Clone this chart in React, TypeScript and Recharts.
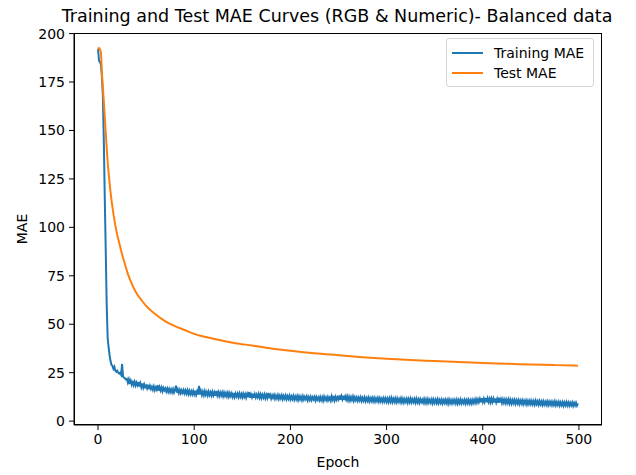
import { LineChart, Line, XAxis, YAxis } from 'recharts';

// training MAE, one value per epoch (0..499)
const trainMae: number[] = [
  192, 186, 185.5, 184, 178, 168, 145, 115, 88, 60, 43, 38, 34, 31, 29, 28.5, 27, 28, 26, 25.5,
  26, 25, 24.5, 25, 24, 29.5, 23, 22.5, 22, 21.5,
  21.8, 19.9, 21.5, 19.2, 20.9, 19.0, 20.8, 18.7, 20.3, 18.4, 19.9, 18.6, 20.2, 17.8, 19.5, 17.6, 19.4, 17.3, 19.0, 17.5,
  18.3, 16.9, 18.8, 16.5, 18.2, 16.6, 17.7, 16.2, 17.9, 16.0, 17.4, 16.3, 18.6, 15.7, 17.5, 15.8, 17.3, 15.4, 17.1, 15.9,
  16.9, 15.3, 16.8, 15.1, 16.6, 15.0, 16.4, 14.9, 16.5, 14.8, 16.2, 18.3, 14.7, 16.3, 14.5, 16.1, 14.4, 15.9, 14.6, 16.0,
  14.3, 15.8, 14.2, 15.9, 14.0, 15.6, 13.9, 15.4, 13.8, 15.5, 13.9, 15.7, 13.6, 15.3, 13.8, 18.2, 13.7, 15.5, 13.5, 15.2,
  13.4, 15.4, 13.6, 15.0, 13.3, 15.2, 13.5, 14.9, 13.2, 15.1, 13.4, 14.8, 13.1, 15.6, 13.3, 14.9, 13.0, 14.7, 13.2, 14.8,
  12.9, 14.7, 13.1, 14.5, 12.8, 14.6, 12.7, 14.4, 12.9, 14.3, 12.6, 14.5, 12.5, 14.2, 12.7, 14.1, 12.4, 14.3, 12.6, 14.0,
  12.3, 14.1, 12.5, 13.9, 12.2, 14.0, 12.4, 15.0, 12.1, 13.8, 12.3, 14.2, 12.0, 13.9, 12.2, 13.7, 12.4, 14.0, 12.1, 13.8,
  11.9, 13.6, 12.2, 13.8, 11.8, 13.5, 12.0, 14.6, 11.9, 13.4, 11.7, 13.3, 12.0, 13.5, 11.6, 13.2, 11.8, 13.4, 11.5, 13.1,
  11.7, 13.3, 11.4, 13.0, 11.6, 13.2, 11.3, 12.9, 11.5, 13.1, 11.2, 12.8, 11.4, 13.0, 11.1, 12.7, 11.3, 12.9, 11.0, 12.8,
  11.2, 12.6, 10.9, 12.8, 11.1, 12.5, 11.3, 12.7, 10.8, 12.4, 11.0, 12.6, 10.9, 12.3, 11.2, 12.5, 10.7, 12.4, 11.0, 12.2,
  10.8, 12.5, 10.9, 12.3, 10.6, 12.6, 11.0, 12.2, 10.7, 12.4, 10.9, 12.1, 10.6, 12.8, 11.1, 13.0, 10.8, 12.5, 11.0, 12.3,
  11.2, 13.2, 11.0, 12.9, 11.3, 13.1, 10.9, 12.7, 11.1, 12.8, 10.8, 12.5, 10.7, 12.4, 10.9, 12.6, 10.6, 12.3, 10.8, 12.2,
  10.5, 12.1, 10.7, 12.3, 10.4, 12.0, 10.6, 12.2, 10.3, 11.9, 10.5, 12.1, 10.2, 11.8, 10.4, 12.0, 10.3, 11.9, 10.1, 11.7,
  10.3, 11.9, 10.1, 11.8, 10.2, 11.6, 10.0, 11.8, 10.2, 11.7, 10.0, 11.6, 9.9, 11.8, 10.1, 11.9, 9.9, 11.5, 10.0, 11.7,
  9.8, 11.6, 10.0, 11.4, 9.9, 11.7, 9.8, 11.5, 9.7, 11.3, 9.9, 11.5, 9.6, 11.4, 9.8, 11.6, 9.7, 11.2, 9.8, 11.4,
  9.6, 11.5, 9.7, 11.2, 9.5, 11.3, 9.8, 11.1, 9.6, 11.4, 9.5, 11.2, 9.4, 11.3, 9.6, 11.0, 9.5, 11.2, 9.3, 11.1,
  9.5, 11.0, 9.4, 11.2, 9.3, 10.9, 9.5, 11.1, 9.2, 10.8, 9.4, 11.0, 9.3, 10.9, 9.1, 11.1, 9.3, 10.8, 9.2, 10.9,
  9.4, 10.9, 9.2, 11.0, 9.1, 10.8, 9.3, 11.1, 9.2, 10.7, 9.4, 10.9, 9.1, 10.8, 9.3, 11.0, 9.2, 10.7, 9.1, 10.9,
  9.3, 11.0, 9.5, 11.3, 9.6, 11.2, 9.8, 11.5, 9.7, 11.8, 9.9, 11.6, 10.0, 12.0, 9.8, 11.7, 9.9, 11.5, 9.7, 11.6,
  9.8, 11.5, 9.6, 11.7, 9.7, 11.4, 9.5, 12.1, 9.6, 11.3, 9.4, 11.2, 9.5, 11.1, 9.3, 11.0, 9.4, 11.2, 9.2, 10.9,
  9.1, 10.8, 9.3, 10.9, 9.0, 10.7, 9.2, 10.8, 8.9, 10.6, 9.1, 10.7, 8.8, 10.5, 9.0, 10.6, 8.7, 10.4, 8.9, 10.5,
  8.8, 10.4, 8.7, 10.3, 8.6, 10.5, 8.8, 10.2, 8.5, 10.3, 8.7, 10.1, 8.4, 10.2, 8.6, 10.0, 8.5, 10.1, 8.3, 10.0,
  8.5, 10.0, 8.3, 9.9, 8.4, 10.1, 8.2, 9.8, 8.4, 9.9, 8.1, 9.7, 8.3, 9.8, 8.0, 9.6, 8.2, 9.8, 8.1, 9.6,
  8.0, 9.5, 8.2, 9.6, 7.9, 9.4, 8.1, 9.5, 8.0, 9.2,
];

// test MAE is smooth, so read at selected epochs
const testEpochs = [0, 1, 2, 3, 4, 5, 6, 7, 8, 9, 10, 12, 14, 16, 18, 20, 22, 25, 28, 31, 35, 40, 45, 50, 60, 70, 80, 90, 100, 120, 140, 160, 180, 200, 225, 250, 275, 300, 325, 350, 375, 400, 425, 450, 475, 499];
const testMae = [192, 192.5, 192, 190, 180, 172, 165, 157, 149, 141, 134, 123, 114, 107, 101, 96, 92, 86, 81, 76, 71, 66, 62.5, 59.5, 55, 51.5, 49, 47, 45, 42.5, 40.5, 39, 37.5, 36.3, 35, 34, 33, 32.2, 31.5, 31, 30.5, 30, 29.6, 29.2, 28.9, 28.6];

const xTicks = [0, 100, 200, 300, 400, 500];
const yTicks = [0, 25, 50, 75, 100, 125, 150, 175, 200];

const trainData = trainMae.map((v, i) => ({ epoch: i, mae: v }));
const testData = testEpochs.map((e, i) => ({ epoch: e, mae: testMae[i] }));

const font = 'DejaVu Sans, sans-serif';
const tickStyle = { fontSize: 14, fill: '#000', fontFamily: font };

function LegendBox() {
  const row = (color: string, text: string) => (
    <div style={{ display: 'flex', alignItems: 'center', height: 20 }}>
      <div style={{ width: 31, height: 0, borderTop: `2px solid ${color}`, marginRight: 11 }} />
      <span>{text}</span>
    </div>
  );
  return (
    <div style={{
      position: 'absolute', left: 438, top: 30, width: 148, height: 49, boxSizing: 'border-box', padding: '4px 5px',
      border: '1px solid #d6d6d6', borderRadius: 3, background: 'rgba(255,255,255,0.8)',
      fontSize: 14, color: '#000', whiteSpace: 'nowrap',
    }}>
      {row('#1f77b4', 'Training MAE')}
      {row('#ff7f0e', 'Test MAE')}
    </div>
  );
}

export default function App() {
  return (
    <div style={{ position: 'relative', width: 620, height: 467, fontFamily: font }}>
      <div style={{ position: 'absolute', left: 329, top: -3, transform: 'translateX(-50%)', whiteSpace: 'nowrap', fontSize: 17.5, lineHeight: '22px' }}>
        Training and Test MAE Curves (RGB &amp; Numeric)- Balanced data
      </div>
      <LineChart width={620} height={467} margin={{ top: 25, right: 26, left: 0, bottom: 7 }}>
        <XAxis dataKey="epoch" type="number" domain={[-25, 524]} ticks={xTicks} allowDataOverflow
          height={43} tickSize={5} tickMargin={4} stroke="#000" tick={tickStyle} />
        <YAxis type="number" domain={[-2, 200.3]} ticks={yTicks} allowDataOverflow
          width={66} tickSize={5} tickMargin={4} stroke="#000" tick={tickStyle} />
        <Line data={trainData} dataKey="mae" name="Training MAE" stroke="#1f77b4" strokeWidth={2} dot={false} isAnimationActive={false} />
        <Line data={testData} dataKey="mae" name="Test MAE" type="monotone" stroke="#ff7f0e" strokeWidth={2} dot={false} isAnimationActive={false} />
      </LineChart>
      {/* frame around the plot area, like matplotlib spines */}
      <div style={{ position: 'absolute', left: 66, top: 25, width: 528, height: 392, boxSizing: 'border-box', border: '1px solid #000', pointerEvents: 'none' }} />
      <LegendBox />
      <div style={{ position: 'absolute', left: 330, top: 445, transform: 'translateX(-50%)', fontSize: 14, lineHeight: '18px' }}>Epoch</div>
      <div style={{ position: 'absolute', left: 14, top: 221, transform: 'translate(-50%,-50%) rotate(-90deg)', fontSize: 14, lineHeight: '18px' }}>MAE</div>
    </div>
  );
}
